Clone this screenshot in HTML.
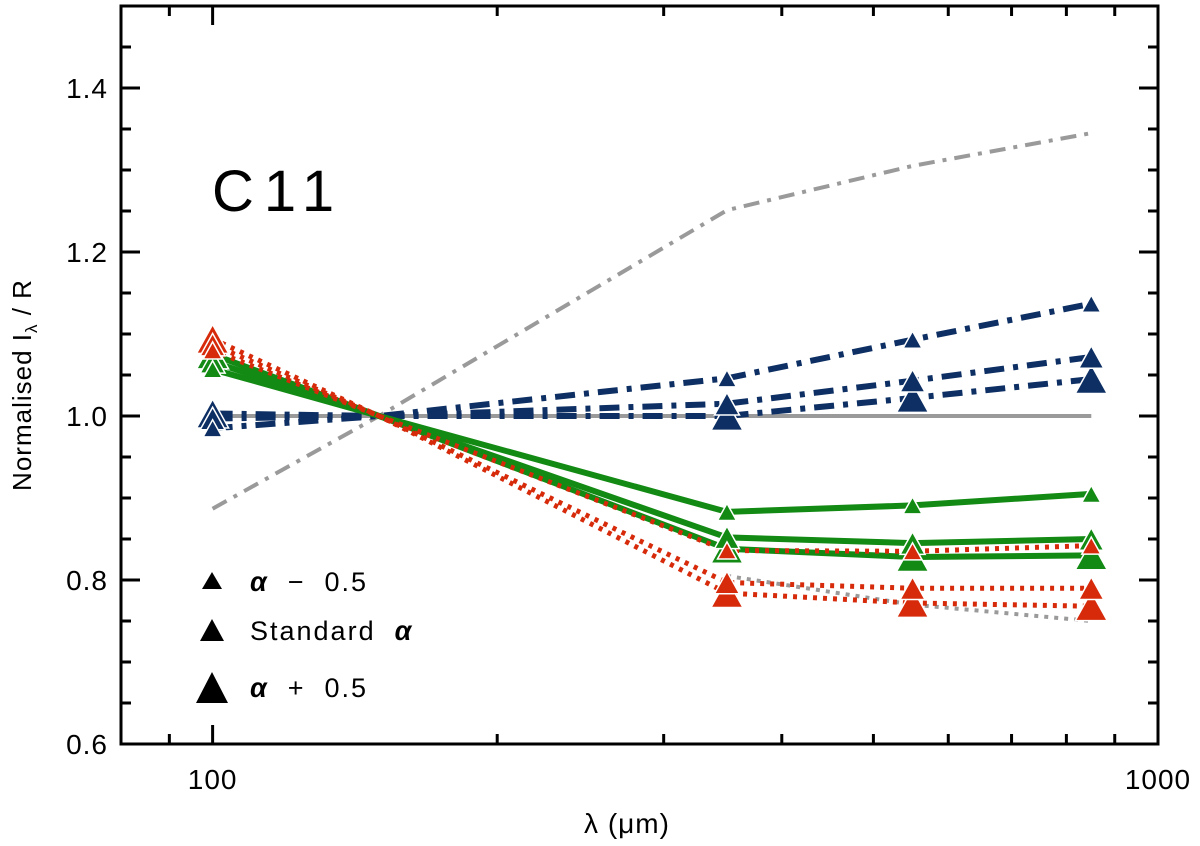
<!DOCTYPE html>
<html><head><meta charset="utf-8"><style>
body{margin:0;background:#fff;}
svg text{font-family:"Liberation Sans","DejaVu Sans",sans-serif;}
</style></head><body>
<svg id="chart" width="1200" height="841" viewBox="0 0 1200 841" xmlns="http://www.w3.org/2000/svg">
<g id="grid"></g>
<g id="series"></g>
<g id="markers"></g>
<rect x="121" y="6" width="1037" height="738" fill="none" stroke="#000" stroke-width="3"/>
<g id="axes"></g>
<text x="212" y="211" font-size="58" letter-spacing="10">C11</text>
<text transform="translate(31,385) rotate(-90)" text-anchor="middle" font-size="26" letter-spacing="1">Normalised I<tspan font-size="17" dy="6">λ</tspan><tspan dy="-6"> / R</tspan></text>
<text x="627" y="833" text-anchor="middle" font-size="28" letter-spacing="1">λ (μm)</text>
<g>
<polygon points="202,589 222,589 212,572" fill="#000"/>
<text x="250" y="591" font-size="27" letter-spacing="2" xml:space="preserve"><tspan font-style="italic" font-weight="bold">α</tspan>  −  0.5</text>
<polygon points="200,641 224,641 212,619" fill="#000"/>
<text x="250" y="640" font-size="27" letter-spacing="2" xml:space="preserve">Standard  <tspan font-style="italic" font-weight="bold">α</tspan></text>
<polygon points="196,703 228,703 212,672" fill="#000"/>
<text x="250" y="697" font-size="27" letter-spacing="2" xml:space="preserve"><tspan font-style="italic" font-weight="bold">α</tspan>  +  0.5</text>
</g>
</svg>
<script>
const wavelengths=[100,150,350,550,850];
const yTicks=[0.6,0.8,1.0,1.2,1.4];
const xTickLabels=[100,1000];
const grayRefSolid=[1.0,1.0,1.0,1.0,1.0];
const grayRefDashDot=[0.887,1.0,1.251,1.305,1.345];
const grayRefDotted=[null,null,0.805,0.77,0.75];
const blueSmall=[0.985,1.0,1.046,1.093,1.137];
const blueStd=[0.997,1.0,1.015,1.043,1.072];
const blueLarge=[1.003,1.0,1.0,1.022,1.045];
const greenSmall=[1.057,1.0,0.883,0.891,0.905];
const greenStd=[1.066,1.0,0.852,0.845,0.850];
const greenLarge=[1.075,1.0,0.838,0.828,0.830];
const redSmall=[1.080,1.0,0.836,0.835,0.842];
const redStd=[1.087,1.0,0.797,0.790,0.790];
const redLarge=[1.094,1.0,0.784,0.772,0.768];

const NS='http://www.w3.org/2000/svg';
const X0=121,X1=1158,Y0=6,Y1=744;
const XMIN=Math.log10(80),XMAX=3,YMIN=0.6,YMAX=1.5;
function xs(v){return X0+(Math.log10(v)-XMIN)/(XMAX-XMIN)*(X1-X0);}
function ys(v){return Y1-(v-YMIN)/(YMAX-YMIN)*(Y1-Y0);}
function mk(tag,attrs,parent){const e=document.createElementNS(NS,tag);for(const k in attrs)e.setAttribute(k,attrs[k]);parent.appendChild(e);return e;}
const axes=document.getElementById('axes'),ser=document.getElementById('series'),mks=document.getElementById('markers');
for(let v=0.6;v<=1.5001;v+=0.05){
  const y=ys(v),major=Math.abs(v*5-Math.round(v*5))<1e-6;const L=major?19:10;
  const t=mk('line',{x1:X0,x2:X0+L,y1:y,y2:y,stroke:'#000','stroke-width':3},axes);
  
  
  const t2=mk('line',{x1:X1,x2:X1-L,y1:y,y2:y,stroke:'#000','stroke-width':3},axes);
  
  
}
yTicks.forEach(v=>{const t=mk('text',{x:108,y:ys(v)+10,'text-anchor':'end','font-size':28,'letter-spacing':1},axes);t.textContent=v.toFixed(1);
  
  });
[80,90,100,200,300,400,500,600,700,800,900,1000].forEach(v=>{
  const x=xs(v),major=(v===100||v===1000);const L=major?19:10;
  const t=mk('line',{x1:x,x2:x,y1:Y1,y2:Y1-L,stroke:'#000','stroke-width':3},axes);
  
  
  const t2=mk('line',{x1:x,x2:x,y1:Y0,y2:Y0+L,stroke:'#000','stroke-width':3},axes);
  
  
});
xTickLabels.forEach(v=>{const t=mk('text',{x:Math.min(xs(v),1160),y:789,'text-anchor':'middle','font-size':28,'letter-spacing':1},axes);t.textContent=String(v);
  
  });
function line(vals,color,w,dash,name){
  const pts=[];vals.forEach((v,i)=>{if(v!==null)pts.push(xs(wavelengths[i]).toFixed(1)+','+ys(v).toFixed(1));});
  const p=mk('polyline',{points:pts.join(' '),fill:'none',stroke:color,'stroke-width':w,'stroke-dasharray':dash||'none'},ser);
  
  
}
function tris(vals,color,size,name){
  vals.forEach((v,i)=>{if(i===1||v===null)return;const x=xs(wavelengths[i]),y=ys(v);const h=size*0.9;
    const t=mk('polygon',{points:`${x-size/2},${y+h/2} ${x+size/2},${y+h/2} ${x},${y-h/2}`,fill:color,stroke:'#fff','stroke-width':1.5},mks);
    
    });
}
const GR='#9a9a9a',BL='#0d2f63',GN='#138a14',RD='#d62a0a';
line(grayRefSolid,GR,4,null,'reference-line-solid');
line(grayRefDashDot,GR,4,'16,8,4,8','reference-line-dashdot');
line(grayRefDotted,GR,4,'4,6','reference-line-dotted');
line(blueSmall,BL,6,'20,9,5,9','blue-line-small');
line(blueStd,BL,6,'20,9,5,9','blue-line-standard');
line(blueLarge,BL,6,'20,9,5,9','blue-line-large');
line(greenSmall,GN,6,null,'green-line-small');
line(greenStd,GN,6,null,'green-line-standard');
line(greenLarge,GN,6,null,'green-line-large');
line(redSmall,RD,5,'4,6','red-line-small');
line(redStd,RD,5,'4,6','red-line-standard');
line(redLarge,RD,5,'4,6','red-line-large');
tris(blueLarge,BL,32,'blue-marker-large');tris(blueStd,BL,25,'blue-marker-standard');tris(blueSmall,BL,19,'blue-marker-small');
tris(greenLarge,GN,32,'green-marker-large');tris(greenStd,GN,25,'green-marker-standard');tris(greenSmall,GN,19,'green-marker-small');
tris(redLarge,RD,32,'red-marker-large');tris(redStd,RD,25,'red-marker-standard');tris(redSmall,RD,19,'red-marker-small');
</script>
</body></html>
